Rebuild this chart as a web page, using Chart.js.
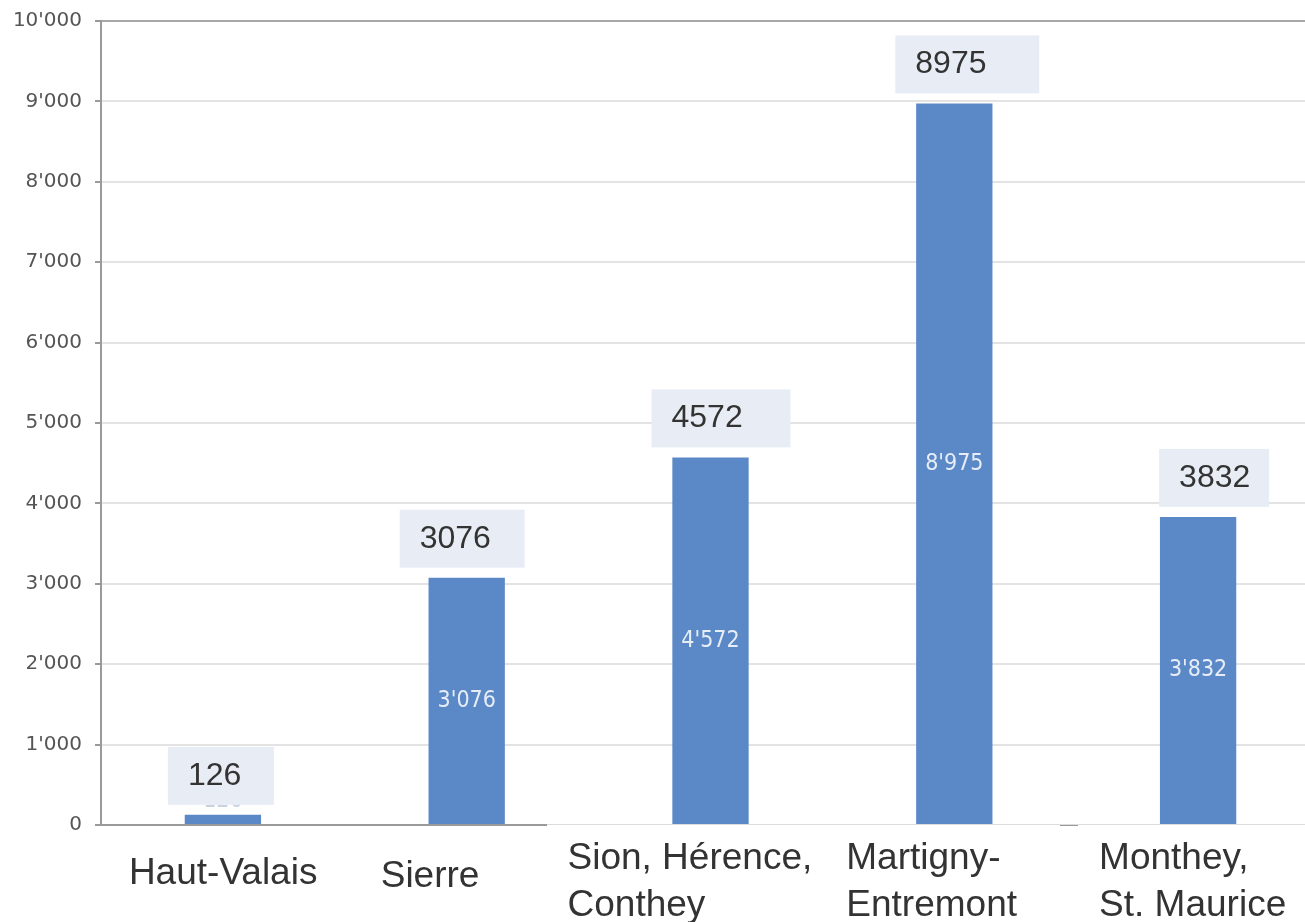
<!DOCTYPE html>
<html>
<head>
<meta charset="utf-8">
<script src="https://cdn.jsdelivr.net/npm/chart.js@4.4.0/dist/chart.umd.min.js"></script>
<style>
  html, body { margin: 0; padding: 0; background: #fff; overflow: hidden; }
  #wrap { width: 1320px; height: 922px; }
</style>
</head>
<body>
<div id="wrap"><canvas id="chart" width="1320" height="922"></canvas></div>
<script>
var categories = [
  ['Haut-Valais'],
  ['Sierre'],
  ['Sion, Hérence,', 'Conthey'],
  ['Martigny-', 'Entremont'],
  ['Monthey,', 'St. Maurice']
];
var values = [126, 3076, 4572, 8975, 3832];
var yTicks = [0, 1000, 2000, 3000, 4000, 5000, 6000, 7000, 8000, 9000, 10000];

function swiss(v) {
  return v.toString().replace(/\B(?=(\d{3})+(?!\d))/g, "'");
}

// labels on and above the bars
var barLabels = {
  id: 'barLabels',
  afterDatasetsDraw: function(chart) {
    var ctx = chart.ctx;
    var bars = chart.getDatasetMeta(0).data;
    var boxLeft = [-55, -67, -59, -59, -39];
    var boxRight = [51, 58, 80, 85, 71];
    ctx.save();
    bars.forEach(function(bar, i) {
      var h = bar.base - bar.y;
      ctx.font = '23px "DejaVu Sans Condensed"';
      ctx.textAlign = 'center';
      ctx.textBaseline = 'middle';
      if (h > 40) {
        ctx.fillStyle = 'rgba(255,255,255,0.85)';
        ctx.fillText(swiss(values[i]), bar.x, (bar.y + bar.base) / 2);
      } else {
        ctx.fillStyle = '#c9d3e0';
        ctx.fillText(swiss(values[i]), bar.x, bar.y - 14);
      }
      var bottom = bar.y - 10;
      var left = bar.x + boxLeft[i];
      ctx.fillStyle = '#e8edf5';
      ctx.fillRect(left, bottom - 58, boxRight[i] - boxLeft[i], 58);
      ctx.fillStyle = '#333333';
      ctx.font = '32px "Liberation Sans", Arial, sans-serif';
      ctx.textAlign = 'left';
      ctx.fillText(String(values[i]), left + 20, bottom - 29);
    });
    ctx.restore();
  }
};

// category names under the axis
var catLabels = {
  id: 'catLabels',
  afterDraw: function(chart) {
    var ctx = chart.ctx;
    var area = chart.chartArea;
    var xs = chart.scales.x;
    var dx = [-94, -86, -143, -108, -99];
    ctx.save();
    // white label boxes covering part of the axis
    ctx.fillStyle = '#ffffff';
    ctx.fillRect(547, area.bottom - 1, 1060 - 547, 100);
    ctx.fillRect(1078, area.bottom - 1, chart.width - 1078, 100);
    ctx.strokeStyle = '#dcdcdc';
    ctx.lineWidth = 1;
    ctx.beginPath();
    ctx.moveTo(547, area.bottom - 0.5);
    ctx.lineTo(chart.width, area.bottom - 0.5);
    ctx.stroke();

    ctx.fillStyle = '#333333';
    ctx.font = '37px "Liberation Sans", Arial, sans-serif';
    ctx.textAlign = 'left';
    ctx.textBaseline = 'middle';
    categories.forEach(function(lines, i) {
      var x = xs.getPixelForValue(i) + dx[i];
      if (lines.length === 1) {
        ctx.fillText(lines[0], x, area.bottom + (i === 0 ? 49 : 52));
      } else {
        ctx.fillText(lines[0], x, area.bottom + 34);
        ctx.fillText(lines[1], x, area.bottom + 81);
      }
    });
    ctx.restore();
  }
};

var ctx = document.getElementById('chart').getContext('2d');
var myChart = new Chart(ctx, {
  type: 'bar',
  data: {
    labels: categories.map(function(c) { return c.join(' '); }),
    datasets: [
      {
        data: values,
        backgroundColor: '#5b88c6',
        borderWidth: 0,
        barPercentage: 0.313,
        categoryPercentage: 1
      }
    ]
  },
  options: {
    responsive: false,
    animation: false,
    layout: { padding: { top: 21, left: 0, right: 0, bottom: 0 } },
    plugins: {
      legend: { display: false },
      tooltip: { enabled: false }
    },
    scales: {
      x: {
        ticks: { display: false },
        grid: { display: false },
        border: { color: '#9a9a9a', width: 2 },
        afterFit: function(scale) { scale.height = 97; }
      },
      y: {
        min: 0,
        max: 10000,
        afterBuildTicks: function(scale) {
          scale.ticks = yTicks.map(function(v) { return { value: v }; });
        },
        ticks: {
          padding: 13,
          color: '#555555',
          font: { family: 'DejaVu Sans', size: 20 },
          callback: function(v) { return swiss(v); }
        },
        grid: {
          color: function(c) { return c.tick && c.tick.value === 10000 ? '#a8a8a8' : '#e3e3e3'; },
          lineWidth: 2,
          tickLength: 6,
          tickColor: '#9a9a9a'
        },
        border: { color: '#9a9a9a', width: 2 },
        afterFit: function(scale) {
          scale.width = 101;
          scale.paddingTop = 0;
          scale.paddingBottom = 0;
        }
      }
    }
  },
  plugins: [barLabels, catLabels]
});
</script>
</body>
</html>
